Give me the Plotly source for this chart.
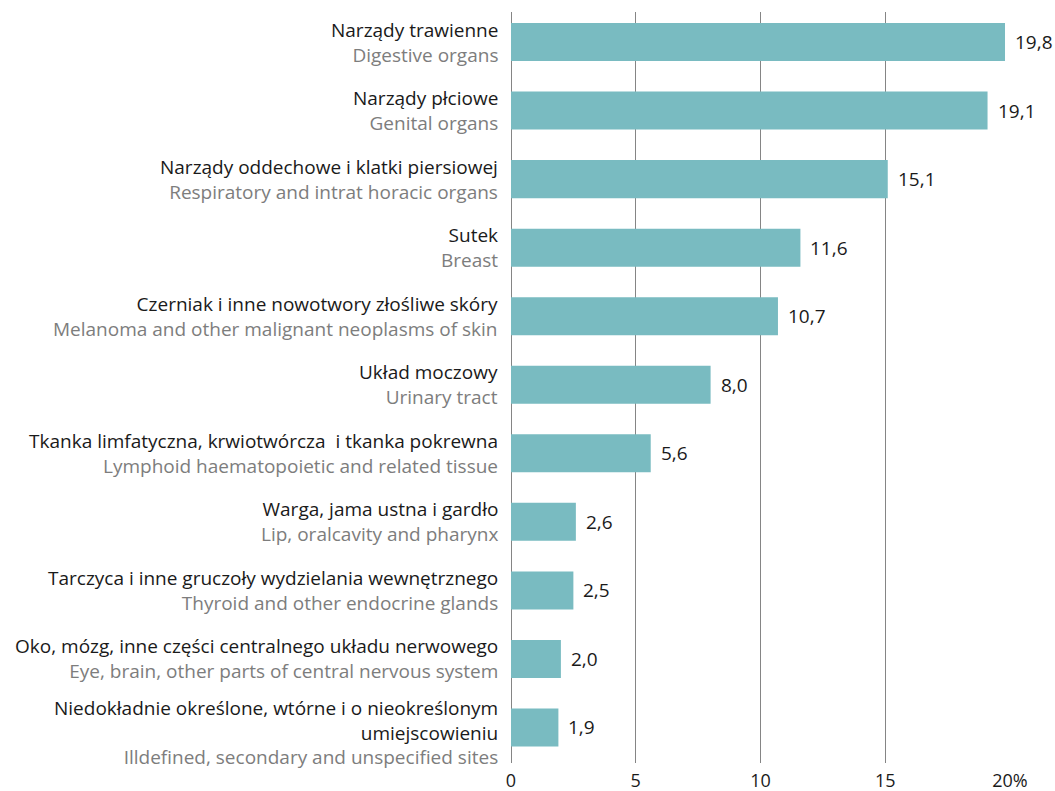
import plotly.graph_objects as go

labels_pl = [
    "Narządy trawienne",
    "Narządy płciowe",
    "Narządy oddechowe i klatki piersiowej",
    "Sutek",
    "Czerniak i inne nowotwory złośliwe skóry",
    "Układ moczowy",
    "Tkanka limfatyczna, krwiotwórcza  i tkanka pokrewna",
    "Warga, jama ustna i gardło",
    "Tarczyca i inne gruczoły wydzielania wewnętrznego",
    "Oko, mózg, inne części centralnego układu nerwowego",
    "Niedokładnie określone, wtórne i o nieokreślonym<br>umiejscowieniu",
]
labels_en = [
    "Digestive organs",
    "Genital organs",
    "Respiratory and intrat horacic organs",
    "Breast",
    "Melanoma and other malignant neoplasms of skin",
    "Urinary tract",
    "Lymphoid haematopoietic and related tissue",
    "Lip, oralcavity and pharynx",
    "Thyroid and other endocrine glands",
    "Eye, brain, other parts of central nervous system",
    "Illdefined, secondary and unspecified sites",
]
values = [19.8, 19.1, 15.1, 11.6, 10.7, 8.0, 5.6, 2.6, 2.5, 2.0, 1.9]
value_text = ["19,8", "19,1", "15,1", "11,6", "10,7", "8,0", "5,6", "2,6", "2,5", "2,0", "1,9"]
x_ticks = [0, 5, 10, 15, 20]
x_ticktext = ["0", "5", "10", "15", "20%"]

FONT = "Open Sans"
FS = 19
BLACK = "#1a1a1a"
GRAY = "#7d7d7d"
BAR = "#79bbc1"

ypos = list(range(len(values)))

fig = go.Figure(go.Bar(
    x=values, y=ypos, orientation="h",
    marker=dict(color=BAR, line=dict(width=0)),
    width=0.555, hoverinfo="skip",
))

annotations = []
for i, (pl, en) in enumerate(zip(labels_pl, labels_en)):
    annotations.append(dict(
        x=0, xref="paper", y=i, yref="y",
        xanchor="right", yanchor="middle", align="right",
        xshift=-11, yshift=(-5 if "<br>" in pl else 0),
        text=f"<span style='color:{BLACK}'>{pl}</span><br><span style='color:{GRAY}'>{en}</span>",
        showarrow=False, font=dict(family=FONT, size=FS, color=BLACK),
    ))
for i, (v, t) in enumerate(zip(values, value_text)):
    annotations.append(dict(
        x=v, xref="x", y=i, yref="y", xanchor="left", yanchor="middle",
        xshift=8, text=t, showarrow=False,
        font=dict(family=FONT, size=FS, color=BLACK),
    ))

fig.update_layout(
    width=1055, height=791,
    margin=dict(l=511, r=45, t=12, b=28),
    paper_bgcolor="white", plot_bgcolor="white",
    showlegend=False,
    font=dict(family=FONT, size=FS, color=BLACK),
    annotations=annotations,
    xaxis=dict(
        range=[0, 20], tickvals=x_ticks, ticktext=x_ticktext,
        showgrid=True, gridcolor="#858585", gridwidth=1,
        zeroline=True, zerolinecolor="#858585", zerolinewidth=1,
        showline=False, ticks="", ticklabelstandoff=5, automargin=False,
        tickfont=dict(family=FONT, size=18, color=BLACK),
        fixedrange=True,
    ),
    yaxis=dict(
        range=[10.518, -0.438], showticklabels=False, showgrid=False,
        zeroline=False, showline=False, ticks="", fixedrange=True,
        automargin=False,
    ),
)

fig.write_html(
    "out.html",
    config={"displayModeBar": False, "staticPlot": True},
    post_script="document.body.style.margin='0';document.body.style.overflow='hidden';",
)
